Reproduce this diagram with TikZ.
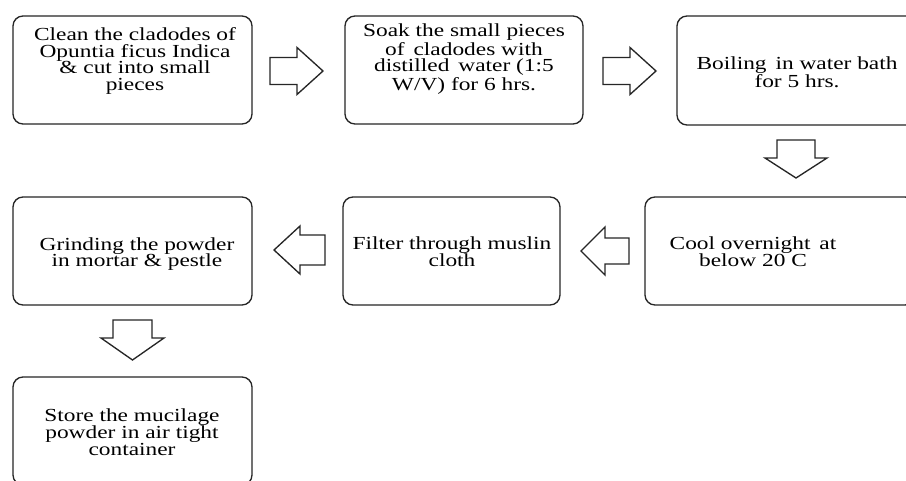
\documentclass[tikz,border=0pt]{standalone}
\usepackage{fontspec}
\setmainfont{Liberation Serif}[FakeStretch=1.27]
\usetikzlibrary{calc}
\tikzset{
  stepbox/.style={draw=black!85, line width=1pt, rounded corners=7.5pt, minimum width=239*0.75pt, minimum height=108*0.75pt, inner sep=0pt},
  steptext/.style={inner sep=0pt, align=center, font=\fontsize{13.8}{12.6}\selectfont},
  barrow/.style={draw=black!85, line width=1pt, fill=white, line join=miter}
}
\newcommand{\blockarrow}[6]{% start, angle, length, headlength, shaft half, head half
  \draw[barrow, shift={#1}, rotate=#2] (0,-#5) -- ({#3-#4},-#5) -- ({#3-#4},-#6) -- (#3,0) -- ({#3-#4},#6) -- ({#3-#4},#5) -- (0,#5) -- cycle;}
\begin{document}
\begin{tikzpicture}[x=0.75pt,y=-0.75pt]
\useasboundingbox (0,0) rectangle (906,481);
\clip (0,0) rectangle (906,481);
\fill[white] (0,0) rectangle (906,481);
% boxes
\node[stepbox] (b1) at (132.5,70) {};
\node[stepbox, minimum width=238*0.75pt] (b2) at (464,70) {};
\node[stepbox, minimum width=240*0.75pt, minimum height=109*0.75pt] (b3) at (797,70.5) {};
\node[stepbox] (b4) at (132.5,251) {};
\node[stepbox, minimum width=217*0.75pt] (b5) at (451.5,251) {};
\node[stepbox, minimum width=270*0.75pt] (b6) at (780,251) {};
\node[stepbox] (b7) at (132.5,431) {};
% texts
\node[steptext] (t1) at (135,61) {Clean the cladodes of\\Opuntia ficus Indica\\\& cut into small\\pieces};
\node[steptext] (t2) at (464,59) {Soak the small pieces\\of\, cladodes with\\distilled\, water (1:5\\W/V) for 6 hrs.};
\node[steptext] (t3) at (797,72) {Boiling\, in water bath\\for 5 hrs.};
\node[steptext] (t4) at (137,254) {Grinding the powder\\in mortar \& pestle};
\node[steptext] (t5) at (452,252) {Filter through muslin\\cloth};
\node[steptext] (t6) at (753,252) {Cool overnight\, at\\below 20 C};
\node[steptext] (t7) at (132,432) {Store the mucilage\\powder in air tight\\container};
% block arrows
\blockarrow{(270,71)}{0}{53}{26}{13.5}{23.5}
\blockarrow{(603,71)}{0}{53}{26}{13.5}{23.5}
\blockarrow{(796,140)}{-90}{38}{20}{19}{31}
\blockarrow{(325,250)}{180}{51}{26}{15}{24}
\blockarrow{(629,251)}{180}{48}{24}{13}{24}
\blockarrow{(132.5,320)}{-90}{40}{22}{19.5}{31.5}
\end{tikzpicture}
\end{document}
